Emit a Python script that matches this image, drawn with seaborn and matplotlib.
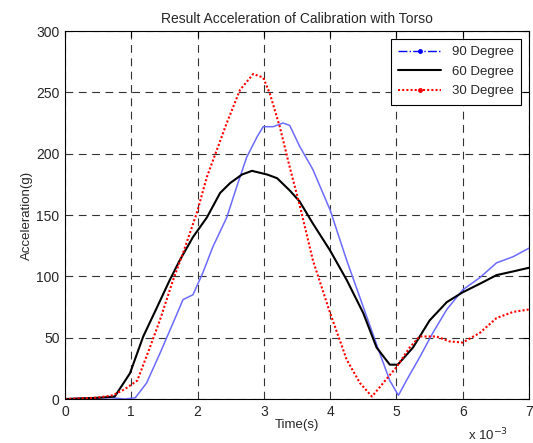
"""
Result acceleration of calibration with torso: three mounting angles.
"""
import pandas as pd
import matplotlib
matplotlib.use("Agg")
import matplotlib.pyplot as plt
from matplotlib.lines import Line2D
import seaborn as sns

# time in ms (axis shows x 10^-3 s)
T90 = [0.0, 0.5, 0.7, 0.9, 1.06, 1.23, 1.43, 1.63, 1.78, 1.93, 2.08, 2.23, 2.44, 2.59,
       2.74, 2.9, 2.99, 3.14, 3.29, 3.39, 3.54, 3.74, 4.0, 4.25, 4.5, 4.75, 4.9, 5.03,
       5.15, 5.35, 5.55, 5.76, 6.0, 6.26, 6.51, 6.76, 7.0]
A90 = [0, 1, 1, 0, 1, 13, 37, 62, 81, 85, 103, 124, 148, 173,
       197, 214, 222, 222, 225, 223, 206, 187, 154, 113, 75, 37, 15, 3,
       15, 34, 54, 73, 89, 99, 111, 116, 123]

T60 = [0.0, 0.5, 0.75, 0.98, 1.18, 1.39, 1.58, 1.73, 1.93, 2.14, 2.34, 2.49, 2.67, 2.82,
       3.05, 3.2, 3.39, 3.54, 3.74, 4.0, 4.25, 4.5, 4.7, 4.9, 5.02, 5.25, 5.5, 5.76,
       6.0, 6.26, 6.51, 6.76, 7.0]
A60 = [0, 1, 2, 21, 51, 75, 97, 113, 132, 148, 168, 176, 183, 186,
       183, 180, 170, 161, 143, 121, 97, 70, 42, 28, 28, 42, 64, 79,
       87, 94, 101, 104, 107]

T30 = [0.0, 0.45, 0.6, 0.72, 0.9, 1.09, 1.28, 1.43, 1.63, 1.78, 1.99, 2.14, 2.29, 2.44,
       2.64, 2.84, 2.99, 3.09, 3.24, 3.39, 3.54, 3.74, 4.0, 4.25, 4.45, 4.63, 4.8, 5.0,
       5.2, 5.35, 5.6, 5.8, 6.0, 6.26, 6.51, 6.76, 7.0]
A30 = [0, 1, 2, 3, 8, 15, 42, 64, 97, 119, 152, 181, 203, 225,
       252, 265, 262, 249, 222, 189, 158, 113, 70, 32, 13, 2, 13, 26,
       42, 51, 51, 47, 46, 54, 66, 71, 73]

LABELS = ["90 Degree", "60 Degree", "30 Degree"]

sns.set_style("white")
plt.rcParams["font.family"] = ["Liberation Sans", "DejaVu Sans"]


def main():
    fig = plt.figure(figsize=(5.33, 4.43), dpi=100)
    ax = fig.add_axes([0.122, 0.0993, 0.8705, 0.8307])

    d90 = pd.DataFrame({"t": T90, "a": A90})
    d60 = pd.DataFrame({"t": T60, "a": A60})
    d30 = pd.DataFrame({"t": T30, "a": A30})

    sns.lineplot(data=d90, x="t", y="a", ax=ax, color="#6b6bff", lw=1.1)
    sns.lineplot(data=d60, x="t", y="a", ax=ax, color="black", lw=1.5)
    sns.lineplot(data=d30, x="t", y="a", ax=ax, color="red", lw=1.5, ls=(0, (1, 1)))

    ax.set_xlim(0, 7)
    ax.set_ylim(0, 300)
    ax.set_xticks(range(0, 8))
    ax.set_yticks(range(0, 301, 50))
    ax.grid(True, ls=(0, (7, 5)), color="#333333", lw=0.8)
    ax.tick_params(direction="in", length=4, labelsize=10, top=True, right=True,
                   color="black", pad=4)
    for s in ax.spines.values():
        s.set_color("black")
        s.set_linewidth(0.8)

    ax.set_title("Result Acceleration of Calibration with Torso", fontsize=10, pad=6)
    ax.set_xlabel("Time(s)", fontsize=9.5, labelpad=0)
    ax.set_ylabel("Acceleration(g)", fontsize=9.5, labelpad=2)
    fig.text(0.915, 0.005, r"x 10$^{-3}$", fontsize=9.5, ha="center")

    handles = [
        Line2D([], [], color="blue", ls="-.", marker=".", markevery=[1], lw=1,
               ms=5, markerfacecolor="blue"),
        Line2D([], [], color="black", lw=1.5),
        Line2D([], [], color="red", ls=(0, (1, 1)), marker=".", markevery=[1], lw=1.5, ms=5),
    ]
    for h in handles:
        h.set_data([0, 0.5, 1], [0, 0, 0])
    leg = ax.legend(handles, LABELS, loc="upper right", fontsize=9.5, frameon=True,
                    fancybox=False, edgecolor="black", framealpha=1,
                    borderaxespad=0.6, handlelength=3.3, labelspacing=0.55,
                    borderpad=0.55)
    leg.get_frame().set_linewidth(0.8)

    fig.savefig("out.png", dpi=100)
    plt.close(fig)


if __name__ == "__main__":
    main()
